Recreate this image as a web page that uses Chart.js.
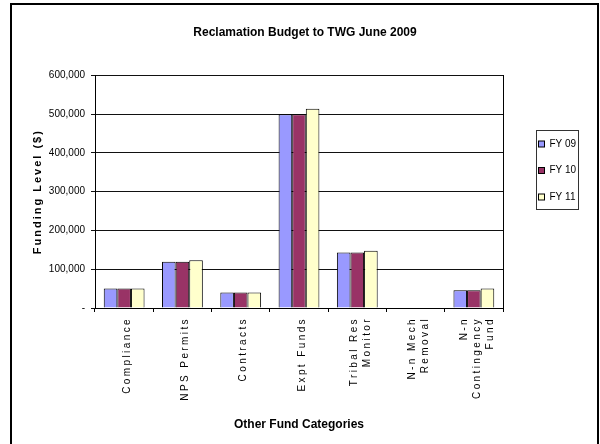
<!DOCTYPE html>
<html>
<head>
<meta charset="utf-8">
<script src="https://cdn.jsdelivr.net/npm/chart.js@4/dist/chart.umd.min.js"></script>
<style>
  html, body { margin: 0; padding: 0; background: #fff; }
  #wrap { width: 600px; height: 444px; }
</style>
</head>
<body>
<div id="wrap"><canvas id="budget-chart" width="600" height="444"></canvas></div>
<script>
const categories = [
  'Compliance',
  'NPS Permits',
  'Contracts',
  'Expt Funds',
  ['Tribal Res', 'Monitor'],
  ['N-n Mech', 'Removal'],
  ['N-n', 'Contingency', 'Fund']
];
const fy09 = [50000, 119000, 40000, 500000, 143000, 0, 46000];
const fy10 = [50000, 119000, 40000, 500000, 143000, 0, 46000];
const fy11 = [50000, 123000, 40000, 514000, 148000, 0, 50000];
const seriesNames = ['FY 09', 'FY 10', 'FY 11'];
const seriesColors = ['#9999ff', '#993366', '#ffffcc'];

const fontFamily = '"Liberation Sans", Arial, sans-serif';
const tickLineHeight = 13;

// Excel export spaces out the letters of the category labels and y title
function withSpacing(fn, spacing) {
  return function (...args) {
    const ctx = this.ctx;
    ctx.save();
    ctx.letterSpacing = spacing;
    fn.apply(this, args);
    ctx.restore();
  };
}

const framePlugin = {
  id: 'frame',
  beforeDraw(chart) {
    const ctx = chart.ctx;
    ctx.save();
    ctx.fillStyle = '#fff';
    ctx.fillRect(0, 0, chart.width, chart.height);
    ctx.restore();

    const x = chart.scales.x, y = chart.scales.y;
    if (!x._spaced) {
      const draw = withSpacing(x.drawLabels, '2.4px');
      x.drawLabels = function (area) {
        // centre multi-line rotated labels on their category
        this.getLabelItems(area).forEach(item => {
          if (item._shifted) return;
          const n = Array.isArray(item.label) ? item.label.length : 1;
          item.options.translation[0] += 3 - (n - 1) * tickLineHeight / 2;
          item._shifted = true;
        });
        draw.call(this, area);
      };
      x._spaced = true;
    }
    if (!y._spaced) {
      y.drawTitle = withSpacing(y.drawTitle, '2px');
      y._spaced = true;
    }
  },
  afterDraw(chart) {
    const ctx = chart.ctx;
    const area = chart.chartArea;
    ctx.save();
    // outer frame
    ctx.strokeStyle = '#000';
    ctx.lineWidth = 2;
    ctx.strokeRect(11, 4, 587, 470);

    // legend box
    ctx.lineWidth = 1;
    const lx = area.right + 33.5, ly = 130.5, lw = 42, lh = 79;
    ctx.strokeStyle = '#333';
    ctx.strokeRect(lx, ly, lw, lh);
    ctx.font = '10px ' + fontFamily;
    ctx.textBaseline = 'middle';
    ctx.textAlign = 'left';
    chart.data.datasets.forEach((ds, i) => {
      const cy = 144 + i * 26.5;
      ctx.fillStyle = ds.backgroundColor;
      ctx.fillRect(lx + 2, cy - 3, 6, 6);
      ctx.strokeStyle = '#000';
      ctx.strokeRect(lx + 2, cy - 3, 6, 6);
      ctx.fillStyle = '#000';
      ctx.fillText(ds.label, lx + 13, cy);
    });
    ctx.restore();
  }
};

new Chart(document.getElementById('budget-chart'), {
  type: 'bar',
  data: {
    labels: categories,
    datasets: [
      { label: seriesNames[0], data: fy09, backgroundColor: seriesColors[0] },
      { label: seriesNames[1], data: fy10, backgroundColor: seriesColors[1] },
      { label: seriesNames[2], data: fy11, backgroundColor: seriesColors[2] }
    ].map(ds => Object.assign(ds, { borderColor: '#000', borderWidth: 1, borderSkipped: 'bottom' }))
  },
  options: {
    responsive: false,
    animation: false,
    devicePixelRatio: 1,
    layout: { padding: { left: 10, right: 0, top: 0, bottom: 0 } },
    datasets: { bar: { categoryPercentage: 0.7, barPercentage: 1 } },
    plugins: {
      legend: { display: false },
      tooltip: { enabled: false },
      title: {
        display: true,
        text: 'Reclamation Budget to TWG June 2009',
        color: '#000',
        font: { family: fontFamily, size: 12, weight: 'bold' },
        padding: { top: 25, bottom: 36 }
      }
    },
    scales: {
      x: {
        afterFit(scale) { scale.height = 136; },
        grid: { display: true, drawOnChartArea: false, offset: true, tickLength: 4, color: '#000' },
        border: { color: '#000', width: 1 },
        ticks: {
          color: '#000',
          font: { family: fontFamily, size: 10, lineHeight: tickLineHeight / 10 },
          minRotation: 90,
          maxRotation: 90,
          autoSkip: false,
          padding: 5
        },
        title: {
          display: true,
          text: 'Other Fund Categories',
          color: '#000',
          font: { family: fontFamily, size: 12, weight: 'bold' },
          padding: { top: 0, bottom: 12 }
        }
      },
      y: {
        min: 0,
        max: 600000,
        afterFit(scale) { scale.width = 85; },
        grid: { color: '#111', lineWidth: 1, tickLength: 4 },
        border: { color: '#000', width: 1 },
        ticks: {
          stepSize: 100000,
          color: '#000',
          font: { family: fontFamily, size: 10 },
          padding: 6,
          callback: v => v === 0 ? '-' : v.toLocaleString('en-US')
        },
        title: {
          display: true,
          text: 'Funding Level ($)',
          color: '#000',
          font: { family: fontFamily, size: 11, weight: 'bold' },
          padding: { top: 21, bottom: 0 }
        }
      },
      // empty right axis: closes the plot box and leaves room for the legend
      yRight: {
        position: 'right',
        afterFit(scale) { scale.width = 97; },
        grid: { display: false },
        border: { display: true, color: '#000', width: 1 },
        ticks: { display: false }
      }
    }
  },
  plugins: [framePlugin]
});
</script>
</body>
</html>
